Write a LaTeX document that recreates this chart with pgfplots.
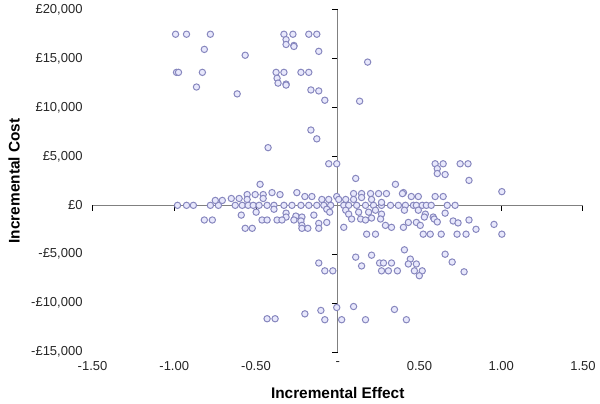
\documentclass[border=0pt]{standalone}
\usepackage{fontspec}
\setmainfont{Liberation Sans}
\usepackage{pgfplots}
\usepackage{pgfplotstable}
\pgfplotsset{compat=1.18}
\definecolor{mkdraw}{RGB}{135,135,190}
\definecolor{mkfill}{RGB}{232,232,252}
\definecolor{axgray}{RGB}{128,128,128}
\pgfplotstableread{
x y
-0.992 17500
-0.925 17500
-0.986 13600
-0.974 13600
-0.864 12100
-0.816 15950
-0.828 13600
-0.779 17500
-0.615 11400
-0.566 15350
-0.329 17500
-0.274 17500
-0.177 17500
-0.128 17500
-0.316 16950
-0.316 16450
-0.268 16350
-0.268 16250
-0.116 15750
-0.377 13600
-0.329 13600
-0.225 13600
-0.177 13600
-0.371 13000
-0.365 12500
-0.316 12400
-0.316 12300
-0.164 11800
-0.116 11700
-0.079 10750
0.183 14650
0.134 10650
-0.164 7700
-0.128 6800
-0.426 5900
-0.055 4250
-0.006 4250
0.110 2750
0.596 4250
0.645 4250
0.749 4250
0.797 4250
0.609 3750
0.609 3250
0.657 3150
0.803 2550
1.004 1400
-0.980 0
-0.925 0
-0.883 0
-0.779 0
-0.730 0
-0.749 500
-0.706 500
-0.651 700
-0.603 700
-0.554 1100
-0.554 600
-0.627 0
-0.584 0
-0.548 0
-0.517 0
-0.816 -1500
-0.767 -1500
-0.590 -1000
-0.566 -2350
-0.523 -2350
-0.475 2150
-0.505 1100
-0.456 1100
-0.456 700
-0.402 1300
-0.353 1100
-0.250 1300
-0.201 900
-0.158 900
-0.097 600
-0.055 600
-0.006 900
-0.481 0
-0.432 0
-0.390 0
-0.329 0
-0.280 0
-0.225 0
-0.177 0
-0.128 0
-0.085 0
-0.043 0
-0.390 -400
-0.499 -700
-0.316 -800
-0.316 -1200
-0.256 -1100
-0.219 -1200
-0.225 -1600
-0.268 -1500
-0.219 -2050
-0.146 -1000
-0.067 -400
-0.049 -700
-0.463 -1500
-0.432 -1500
-0.371 -1500
-0.341 -1500
-0.116 -1850
-0.067 -1750
-0.116 -2350
-0.219 -2350
-0.183 -2350
0.353 2150
0.402 1300
0.450 900
0.493 900
0.097 1200
0.146 1200
0.201 1200
0.250 1200
0.298 1200
0.049 600
0.097 600
0.146 800
0.207 600
0.006 600
0.037 0
0.067 0
0.116 0
0.170 0
0.219 0
0.268 0
0.323 0
0.371 0
0.414 0
0.463 0
0.481 0
0.517 0
0.542 0
0.572 0
0.670 0
0.718 0
0.268 300
0.049 -500
0.067 -900
0.128 -700
0.189 -700
0.231 -500
0.268 -900
0.085 -1400
0.140 -1400
0.207 -1300
0.262 -1400
0.170 -1500
0.493 -500
0.536 -900
0.530 -1200
0.432 -1750
0.481 -1750
0.402 -2250
0.292 -2050
0.329 -2250
0.037 -2250
0.177 -2950
0.231 -2950
0.523 -2950
0.566 -2950
0.396 1200
0.596 900
0.645 900
0.408 -500
0.584 -1200
0.590 -1400
0.609 -1700
0.657 -800
0.505 -2050
0.706 -1600
0.736 -1800
0.803 -1500
0.846 -2450
0.956 -1950
0.633 -2950
0.730 -2950
0.785 -2950
1.004 -2950
-0.116 -5900
-0.079 -6700
-0.030 -6700
0.110 -5300
0.146 -6200
0.207 -5100
0.256 -5900
0.280 -5900
0.329 -5900
0.268 -6700
0.310 -6700
0.365 -6700
0.408 -4550
0.444 -5500
0.432 -6000
0.481 -6000
0.469 -6700
0.517 -6700
0.499 -7200
0.657 -5000
0.700 -5800
0.773 -6800
-0.201 -11100
-0.103 -10750
-0.079 -11700
-0.006 -10450
0.024 -11700
0.097 -10350
0.170 -11700
0.347 -10650
0.420 -11700
-0.432 -11600
-0.383 -11600
}\icerdata
\begin{document}
\begin{tikzpicture}
\pgfplotsset{
  common/.style={
    scale only axis,
    width=369.75pt, height=258pt,
    xmin=-1.5, xmax=1.5, ymin=-15000, ymax=20000,
    xtick={-1.5,-1,-0.5,0,0.5,1,1.5},
    ytick={-15000,-10000,-5000,0,5000,10000,15000,20000},
    scaled ticks=false,
  }
}
% axis lines crossing at the origin
\begin{axis}[common,
  axis lines=middle,
  axis line style={-, axgray, line width=1.1pt},
  xticklabels={}, yticklabels={},
  xtick align=outside,
  ytick align=outside,
  major tick length=4pt,
  tick style={black, line width=0.7pt},
  hide obscured x ticks=false,
  hide obscured y ticks=false,
]
\end{axis}
% labels and data
\begin{axis}[common,
  axis x line*=bottom, axis y line*=left,
  axis line style={draw=none},
  major tick length=0pt,
  tick style={draw=none},
  xticklabels={{-1.50},{-1.00},{-0.50},{-},{0.50},{1.00},{1.50}},
  yticklabels={{-£15,000},{-£10,000},{-£5,000},{£0},{£5,000},{£10,000},{£15,000},{£20,000}},
  tick label style={font=\fontsize{9.8}{11}\selectfont, text=black!85},
  xticklabel style={yshift=-3.5pt},
  yticklabel style={xshift=-4pt},
  xlabel={Incremental Effect},
  ylabel={Incremental Cost},
  label style={font=\fontsize{11.6}{13}\selectfont\bfseries},
  xlabel style={at={(axis description cs:0.5,-0.119)}, anchor=center},
  ylabel style={at={(axis description cs:-0.160,0.5)}, anchor=center},
  clip=false,
]
\addplot[only marks, mark=*, mark size=2.4pt,
  mark options={draw=mkdraw, fill=mkfill, line width=0.75pt}]
  table[x=x, y=y] {\icerdata};
\end{axis}
\path (-69.75pt,-39pt) rectangle (380.25pt,263.25pt);
\end{tikzpicture}
\end{document}
